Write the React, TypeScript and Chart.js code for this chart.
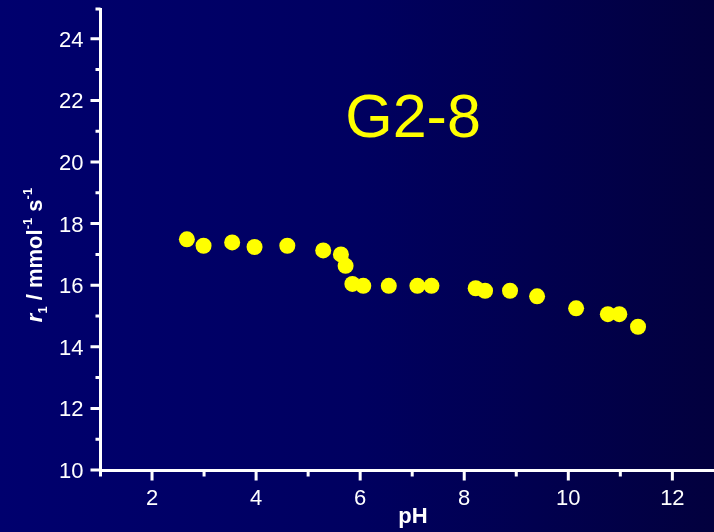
import React, { useEffect, useRef } from 'react';
import { Chart, registerables } from 'chart.js';

Chart.register(...registerables);

const phValues = [2.67, 2.99, 3.54, 3.97, 4.6, 5.29, 5.63, 5.72, 5.85, 6.06, 6.55, 7.1, 7.37, 8.22, 8.4, 8.88, 9.4, 10.15, 10.76, 10.98, 11.34];
const r1Values = [17.49, 17.28, 17.39, 17.24, 17.28, 17.13, 17.0, 16.63, 16.04, 15.98, 15.98, 15.98, 15.98, 15.9, 15.82, 15.82, 15.64, 15.25, 15.06, 15.06, 14.65];
const xMajorTicks = [2, 4, 6, 8, 10, 12];
const xMinorTicks = [1, 3, 5, 7, 9, 11];
const yMajorTicks = [10, 12, 14, 16, 18, 20, 22, 24];
const yMinorTicks = [11, 13, 15, 17, 19, 21, 23, 25];
const seriesLabel = 'G2-8';
const xTitle = 'pH';

const FONT = '"Liberation Sans", Arial, sans-serif';

const decorPlugin = {
  id: 'decor',
  beforeDraw(chart: any) {
    const { ctx, width, height } = chart;
    const g = ctx.createLinearGradient(0, 0, width, 0);
    g.addColorStop(0, 'rgb(0,0,110)');
    g.addColorStop(0.5, 'rgb(0,0,96)');
    g.addColorStop(1, 'rgb(2,0,62)');
    ctx.save();
    ctx.fillStyle = g;
    ctx.fillRect(0, 0, width, height);
    ctx.restore();
  },
  beforeDatasetsDraw(chart: any) {
    const { ctx, chartArea, scales } = chart;
    const xs = scales.x;
    const ys = scales.y;
    const left = chartArea.left + 0.5;
    const bottom = chartArea.bottom + 0.5;
    ctx.save();
    ctx.strokeStyle = '#ffffff';
    ctx.lineWidth = 3;
    ctx.lineCap = 'butt';
    ctx.beginPath();
    ctx.moveTo(left, chartArea.top);
    ctx.lineTo(left, bottom + 1.5);
    ctx.moveTo(left - 1.5, bottom);
    ctx.lineTo(chart.width, bottom);
    ctx.stroke();
    ctx.beginPath();
    yMajorTicks.forEach((v) => {
      const p = ys.getPixelForValue(v);
      ctx.moveTo(left - 10, p);
      ctx.lineTo(left, p);
    });
    yMinorTicks.forEach((v) => {
      const p = ys.getPixelForValue(v) + (v === 25 ? 1 : 0);
      ctx.moveTo(left - 5, p);
      ctx.lineTo(left, p);
    });
    xMajorTicks.forEach((v) => {
      const p = xs.getPixelForValue(v);
      ctx.moveTo(p, bottom);
      ctx.lineTo(p, bottom + 10);
    });
    xMinorTicks.forEach((v) => {
      const p = xs.getPixelForValue(v) + (v === 1 ? 0.5 : 0);
      ctx.moveTo(p, bottom);
      ctx.lineTo(p, bottom + 6);
    });
    ctx.stroke();

    // tick labels
    ctx.fillStyle = '#ffffff';
    ctx.font = `22px ${FONT}`;
    ctx.textBaseline = 'alphabetic';
    ctx.textAlign = 'right';
    yMajorTicks.forEach((v) => {
      const p = ys.getPixelForValue(v);
      ctx.fillText(String(v), left - 17, p + 8);
    });
    ctx.textAlign = 'center';
    xMajorTicks.forEach((v) => {
      const p = xs.getPixelForValue(v);
      ctx.fillText(String(v), p, 505);
    });
    ctx.restore();
  },
  afterDraw(chart: any) {
    const { ctx } = chart;
    ctx.save();
    // series label
    ctx.fillStyle = '#ffff00';
    ctx.font = `61px ${FONT}`;
    ctx.textAlign = 'center';
    ctx.textBaseline = 'alphabetic';
    ctx.fillText(seriesLabel, 413, 137);

    // x title
    ctx.fillStyle = '#ffffff';
    ctx.font = `bold 22px ${FONT}`;
    ctx.fillText(xTitle, 413, 523);

    // y title
    const pieces = [
      { t: 'r', f: `italic bold 22px ${FONT}`, dy: 0 },
      { t: '1', f: `bold 13px ${FONT}`, dy: 5 },
      { t: ' / mmol', f: `bold 22px ${FONT}`, dy: 0 },
      { t: '-1', f: `bold 13px ${FONT}`, dy: -10 },
      { t: ' s', f: `bold 22px ${FONT}`, dy: 0 },
      { t: '-1', f: `bold 13px ${FONT}`, dy: -10 },
    ];
    let total = 0;
    const widths = pieces.map((p) => {
      ctx.font = p.f;
      const w = ctx.measureText(p.t).width;
      total += w;
      return w;
    });
    ctx.translate(42, 255);
    ctx.rotate(-Math.PI / 2);
    ctx.textAlign = 'left';
    let x = -total / 2;
    pieces.forEach((p, i) => {
      ctx.font = p.f;
      ctx.fillText(p.t, x, p.dy);
      x += widths[i];
    });
    ctx.restore();
  },
};

export default function App() {
  const ref = useRef<HTMLCanvasElement | null>(null);
  useEffect(() => {
    document.body.style.margin = '0';
    document.body.style.overflow = 'hidden';
    const canvas = ref.current;
    if (!canvas) return;
    const chart = new Chart(canvas, {
      type: 'scatter',
      data: {
        datasets: [
          {
            label: seriesLabel,
            data: phValues.map((x, i) => ({ x, y: r1Values[i] })),
            backgroundColor: '#ffff00',
            borderWidth: 0,
            pointRadius: 8,
            pointHoverRadius: 8,
          },
        ],
      },
      options: {
        animation: false,
        responsive: false,
        maintainAspectRatio: false,
        layout: { autoPadding: false, padding: { top: 8, right: 0, left: 0, bottom: 0 } },
        plugins: { legend: { display: false }, tooltip: { enabled: false } },
        scales: {
          x: {
            type: 'linear',
            min: 1,
            max: 12.8,
            afterFit: (s: any) => {
              s.height = 62;
            },
            afterBuildTicks: (s: any) => {
              s.ticks = xMajorTicks.map((v) => ({ value: v }));
            },
            grid: { display: false },
            border: { display: false },
            ticks: { display: false },
          },
          y: {
            type: 'linear',
            min: 10,
            max: 25,
            afterFit: (s: any) => {
              s.width = 100;
            },
            afterBuildTicks: (s: any) => {
              s.ticks = yMajorTicks.map((v) => ({ value: v }));
            },
            grid: { display: false },
            border: { display: false },
            ticks: { display: false },
          },
        },
      },
      plugins: [decorPlugin],
    });
    return () => chart.destroy();
  }, []);
  return (
    <div style={{ width: 714, height: 532 }}>
      <canvas ref={ref} width={714} height={532} style={{ display: 'block' }} />
    </div>
  );
}
